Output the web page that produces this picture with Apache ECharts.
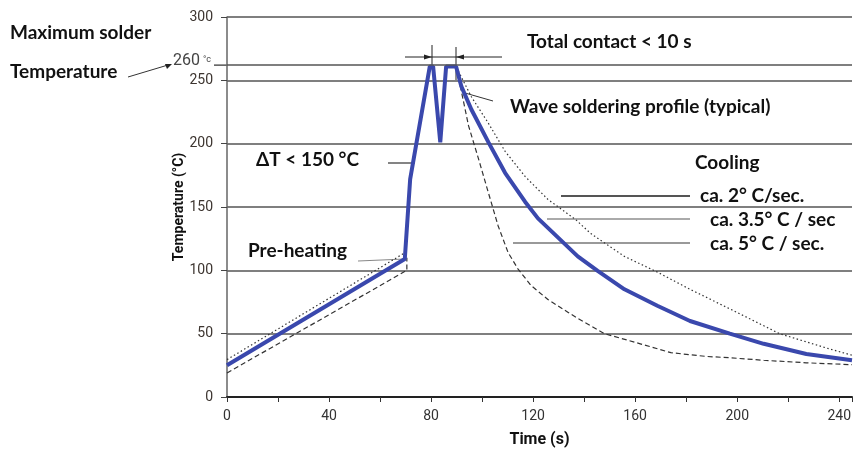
<!DOCTYPE html>
<html>
<head>
<meta charset="utf-8">
<script src="https://cdn.jsdelivr.net/npm/echarts@6/dist/echarts.min.js"></script>
<style>
html, body { margin: 0; padding: 0; background: #fff; }
#chart { width: 855px; height: 453px; }
</style>
</head>
<body>
<div id="chart"></div>
<script>
// time (s), temperature (°C)
var typicalProfile = [
  [0, 25], [69.7, 109], [71.8, 172], [79.5, 261], [80.8, 261], [83.6, 201],
  [85.9, 261], [89.8, 261], [91.9, 245], [95.8, 227], [102.5, 201], [109, 177],
  [116.9, 154], [121.9, 141], [129.7, 126], [137.5, 111], [145.3, 99.5],
  [155.8, 85], [168.7, 72], [181.5, 60], [197.1, 50], [210.4, 42], [227.1, 34],
  [245, 29]
];
var slowPreheat = [[0, 29.5], [69, 113]];
var slowCooling = [
  [90, 260], [95.8, 237], [102.5, 216], [109, 194], [116.9, 174], [125.8, 156],
  [136.7, 140], [142.6, 129], [155.8, 111], [168.7, 98.6], [181.5, 85],
  [197.1, 69.6], [216.6, 50], [236.1, 38], [245, 33]
];
var fastPreheat = [[0, 19], [70.5, 100], [70.5, 110]];
var fastCooling = [
  [90, 258], [91.5, 245], [94.7, 214], [98.6, 188], [102.5, 161], [106.3, 135],
  [110.2, 114], [114.1, 101], [119.2, 88], [125.8, 77], [133.6, 67], [137.5, 62],
  [148, 50], [162, 42], [174, 35], [188, 32], [197, 31], [210.4, 29], [227, 27],
  [245, 25.5]
];
var maxSolderTemp = 262;   // drawn line for the "260 °C" mark
var xLabelStep = 40;

var narrow = "Roboto, 'Liberation Sans Narrow', sans-serif";
var bold = "Lato, 'Open Sans', sans-serif";

var chart = echarts.init(document.getElementById('chart'));

function txt(x, y, s, size) {
  return { type: 'text', x: x, y: y, style: { text: s, font: 'bold ' + (size || 19) + 'px ' + bold, fill: '#111', verticalAlign: 'middle' } };
}
function seg(x1, y1, x2, y2, color, w) {
  return { type: 'line', shape: { x1: x1, y1: y1, x2: x2, y2: y2 }, style: { stroke: color || '#222', lineWidth: w || 1 } };
}
function head(points) {
  return { type: 'polygon', shape: { points: points }, style: { fill: '#222' } };
}

var option = {
  animation: false,
  grid: { left: 227, right: 0, top: 17, bottom: 55 },
  xAxis: {
    type: 'value', min: 0, max: 245, interval: 20,
    name: 'Time (s)', nameLocation: 'middle', nameGap: 35, nameMoveOverlap: false,
    nameTextStyle: { fontFamily: narrow, fontWeight: 'bold', fontSize: 16, color: '#111' },
    axisLine: { lineStyle: { color: '#222', width: 2 } },
    axisTick: { show: true, length: 5, lineStyle: { color: '#333' } },
    axisLabel: {
      margin: 12, fontFamily: narrow, fontSize: 14, color: '#333',
      formatter: function (v) { return v % xLabelStep === 0 ? v : ''; }
    },
    splitLine: { show: false }
  },
  yAxis: {
    type: 'value', min: 0, max: 300, interval: 50,
    name: 'Temperature (°C)', nameLocation: 'middle', nameGap: 41, nameMoveOverlap: false,
    nameTextStyle: { fontFamily: narrow, fontWeight: 'bold', fontSize: 14, color: '#111' },
    axisLine: { show: true, lineStyle: { color: '#666', width: 1.5 } },
    axisTick: { show: true, length: 6, lineStyle: { color: '#444' } },
    axisLabel: { margin: 14, fontFamily: narrow, fontSize: 14, color: '#3d3530' },
    splitLine: { lineStyle: { color: '#555', width: 1.5 } }
  },
  series: [
    {
      type: 'line', data: slowPreheat, symbol: 'none',
      lineStyle: { color: '#333', width: 1.2, type: [1.5, 2.5] }
    },
    {
      type: 'line', data: slowCooling, symbol: 'none',
      lineStyle: { color: '#333', width: 1.2, type: [1.5, 2.5] }
    },
    {
      type: 'line', data: fastPreheat, symbol: 'none',
      lineStyle: { color: '#333', width: 1.2, type: [5, 3] }
    },
    {
      type: 'line', data: fastCooling, symbol: 'none',
      lineStyle: { color: '#333', width: 1.2, type: [5, 3] },
      markLine: {
        silent: true, symbol: 'none', label: { show: false },
        lineStyle: { color: '#555', width: 1.5, type: 'solid' },
        data: [{ yAxis: maxSolderTemp }]
      }
    },
    {
      type: 'line', data: typicalProfile, symbol: 'none',
      lineStyle: { color: '#3a48ad', width: 4 }
    }
  ]
};
chart.setOption(option);

// annotations, placed from the axis scale where they point at the plot
var p260 = chart.convertToPixel({ gridIndex: 0 }, [0, maxSolderTemp]);
var g = [
  txt(10, 33, 'Maximum solder'),
  txt(10, 72, 'Temperature'),
  seg(128, 77, 168, 65, '#333', 1),
  head([[172, 64], [165, 64], [167, 69]]),
  { type: 'text', x: 173, y: p260[1] - 4, style: { text: '260', font: '16px ' + narrow, fill: '#444', verticalAlign: 'middle' } },
  { type: 'text', x: 203, y: p260[1] - 5, style: { text: '°c', font: '9px ' + narrow, fill: '#444', verticalAlign: 'middle' } },
  seg(214, p260[1], p260[0], p260[1], '#555', 1.5),
  txt(527, 42, 'Total contact < 10 s'),
  seg(405, 57, 502, 57), seg(432, 45, 432, 66), seg(456, 47, 456, 80),
  head([[432, 57], [424, 54.5], [424, 59.5]]),
  head([[456, 57], [464, 54.5], [464, 59.5]]),
  txt(510, 107, 'Wave soldering profile (typical)'),
  seg(465, 93, 493, 101, '#333', 1),
  txt(256, 160, 'ΔT < 150 °C'),
  seg(388, 163, 415, 163, '#333', 1.2),
  txt(248, 251, 'Pre-heating'),
  seg(358, 261, 405, 259, '#888', 1.2),
  txt(695, 163, 'Cooling'),
  txt(700, 196, 'ca. 2° C/sec.'),
  seg(561, 196, 690, 196, '#555', 2),
  txt(710, 220, 'ca. 3.5° C / sec'),
  seg(547, 219, 690, 219, '#aaa', 2),
  txt(710, 244, 'ca. 5° C / sec.'),
  seg(513, 243, 690, 243, '#999', 2)
];
chart.setOption({ graphic: g });
</script>
</body>
</html>
